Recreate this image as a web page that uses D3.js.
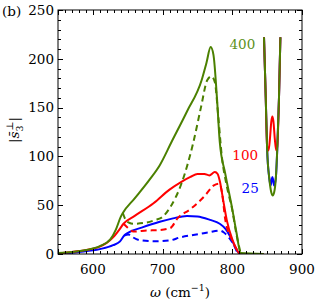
<!DOCTYPE html>
<html>
<head>
<meta charset="utf-8">
<script src="https://cdn.jsdelivr.net/npm/d3@7"></script>
</head>
<body style="margin:0">
<script>
    // Data (omega in cm^-1, |s3| values)
    let xTicks = [600, 700, 800, 900];
    let yTicks = [0, 50, 100, 150, 200, 250];

    let green400 = [[550, 1], [570, 2], [590, 4], [610, 8], [625, 15], [633, 25], [640, 38], [643, 42],
        [660, 57], [680, 75], [696, 91], [713, 115], [735, 146], [756, 178], [763, 196], [769, 212],
        [773, 204], [778, 160], [782, 115], [790, 82], [800, 46], [806, 22], [812, 1], [845, 0]];
    let green400d = [[643, 42], [647, 35], [652, 32], [658, 31], [675, 32], [690, 35], [700, 38],
        [711, 48], [727, 72], [744, 114], [755, 150], [764, 178], [770, 182], [775, 176], [780, 140],
        [785, 100], [792, 70], [800, 45], [806, 20], [812, 1]];
    let red100 = [[550, 0.6], [580, 3], [610, 7.5], [629, 17], [638, 25], [644, 31], [660, 39],
        [687, 52], [710, 66], [727, 74], [740, 79], [750, 82], [760, 82], [767, 80.5], [775, 84],
        [779, 82], [782, 75], [787, 55], [792, 35], [800, 15], [806, 5], [811, 0], [845, 0]];
    let red100d = [[644, 31], [650, 27], [658, 23], [677, 24], [696, 24.6], [711, 26.6], [722, 37],
        [740, 46], [761, 60], [773, 70], [781, 72], [785, 64], [790, 35], [800, 14], [806, 5], [811, 0]];
    let blue25 = [[550, 0], [580, 2], [610, 5], [629, 9], [639, 13], [645, 19], [651, 22], [670, 27],
        [696, 33], [715, 36.5], [735, 39], [750, 38.5], [768, 35], [782, 31], [790, 26], [797, 18],
        [804, 7.5], [811, 0], [845, 0]];
    let blue25d = [[645, 19], [651, 20], [656, 17.7], [668, 14], [690, 13], [711, 14], [725, 17],
        [744, 19.5], [765, 22], [782, 24], [788, 22], [795, 17], [800, 12], [808, 0]];

    // second band (between the poles)
    let greenRes = [[845.5, 222], [848, 160], [850, 107], [853, 78], [856, 63], [858, 60], [860, 63],
        [862.5, 78], [864.5, 107], [867, 160], [869, 222]];
    let redRes = [[845.5, 222], [848, 160], [850, 110], [852, 106], [854, 118], [856, 136], [857.5, 141],
        [859, 136], [861, 118], [863, 106], [864.5, 110], [867, 160], [869, 222]];
    let blueRes = [[845.5, 222], [848, 160], [850, 107], [853, 78], [855, 70], [856.5, 76], [857.5, 79],
        [858.5, 76], [860, 70], [862.5, 78], [864.5, 107], [867, 160], [869, 222]];

    let labels = [
        { text: "400", color: "#5c9121", x: 833, y: 210 },
        { text: "100", color: "#ff0000", x: 837, y: 96 },
        { text: "25", color: "#0000ff", x: 838, y: 62.5 }
    ];

    // Set up SVG
    let W = 321, H = 305;
    let margin = { top: 10, right: 19, bottom: 51, left: 58 };
    let width = W - margin.left - margin.right;
    let height = H - margin.top - margin.bottom;
    let fontName = "DejaVu Serif";
    let fs = 13.5;

    let svg = d3.select("body")
        .append("svg")
        .attr("width", W)
        .attr("height", H)
        .attr("font-family", fontName);

    let g = svg.append("g")
        .attr("transform", `translate(${margin.left}, ${margin.top})`);

    let x = d3.scaleLinear().domain([550, 900]).range([0, width]);
    let y = d3.scaleLinear().domain([0, 250]).range([height, 0]);

    g.append("clipPath").attr("id", "clip")
        .append("rect").attr("width", width).attr("height", height);

    let line = d3.line()
        .x(d => x(d[0]))
        .y(d => y(d[1]))
        .curve(d3.curveMonotoneX);

    let plot = g.append("g").attr("clip-path", "url(#clip)");

    function drawLine(data, color, dashed) {
        plot.append("path")
            .datum(data)
            .attr("fill", "none")
            .attr("stroke", color)
            .attr("stroke-width", 2)
            .attr("stroke-linejoin", "round")
            .attr("stroke-dasharray", dashed ? "6,4" : null)
            .attr("d", line);
    }

    let blue = "#0000ff", red = "#ff0000", green = "#4b8000";
    drawLine(blue25d, blue, true);
    drawLine(blue25, blue, false);
    drawLine(blueRes, blue, false);
    drawLine(red100d, red, true);
    drawLine(red100, red, false);
    drawLine(redRes, red, false);
    drawLine(green400d, green, true);
    drawLine(green400, green, false);
    drawLine(greenRes, green, false);

    // Axes with inward ticks on all sides
    let xMinor = d3.range(560, 900, 10).filter(v => v % 100 !== 0);
    let yMinor = d3.range(10, 250, 10).filter(v => v % 50 !== 0);

    let axes = g.append("g").attr("stroke", "#000").attr("stroke-width", 1);
    axes.append("rect")
        .attr("x", 0).attr("y", 0)
        .attr("width", width).attr("height", height)
        .attr("fill", "none");

    function xTickMarks(vals, len) {
        vals.forEach(v => {
            let px = Math.round(x(v)) + 0.5;
            axes.append("line").attr("x1", px).attr("x2", px).attr("y1", height).attr("y2", height - len);
            axes.append("line").attr("x1", px).attr("x2", px).attr("y1", 0).attr("y2", len);
        });
    }
    function yTickMarks(vals, len) {
        vals.forEach(v => {
            let py = Math.round(y(v)) + 0.5;
            axes.append("line").attr("y1", py).attr("y2", py).attr("x1", 0).attr("x2", len);
            axes.append("line").attr("y1", py).attr("y2", py).attr("x1", width).attr("x2", width - len);
        });
    }
    xTickMarks(xMinor, 3);
    xTickMarks(xTicks.concat([550]), 5);
    yTickMarks(yMinor, 3);
    yTickMarks(yTicks, 5);

    g.selectAll(".xl")
        .data(xTicks)
        .enter()
        .append("text")
        .attr("x", d => x(d))
        .attr("y", height + 20)
        .attr("text-anchor", "middle")
        .attr("font-family", fontName)
        .attr("font-size", fs)
        .text(d => d);

    g.selectAll(".yl")
        .data(yTicks)
        .enter()
        .append("text")
        .attr("x", -4)
        .attr("y", d => y(d))
        .attr("dy", "0.35em")
        .attr("text-anchor", "end")
        .attr("font-family", fontName)
        .attr("font-size", fs)
        .text(d => d);

    // Curve labels
    g.selectAll(".cl")
        .data(labels)
        .enter()
        .append("text")
        .attr("x", d => x(d.x))
        .attr("y", d => y(d.y))
        .attr("text-anchor", "end")
        .attr("font-family", fontName)
        .attr("font-size", fs)
        .attr("fill", d => d.color)
        .text(d => d.text);

    // Axis titles
    let xt = svg.append("text")
        .attr("x", 180).attr("y", 297)
        .attr("text-anchor", "middle")
        .attr("font-family", fontName)
        .attr("font-size", fs);
    xt.append("tspan").attr("font-style", "italic").text("ω");
    xt.append("tspan").text(" (cm");
    xt.append("tspan").attr("font-size", 9.5).attr("dy", -6).text("−1");
    xt.append("tspan").attr("dy", 6).text(")");

    let yt = svg.append("text")
        .attr("transform", "translate(19, 130) rotate(-90)")
        .attr("text-anchor", "middle")
        .attr("font-family", fontName)
        .attr("font-size", fs);
    yt.append("tspan").text("|");
    yt.append("tspan").attr("font-style", "italic").text("s̄");
    yt.append("tspan").attr("font-size", 9.5).attr("dy", 4).text("3");
    yt.append("tspan").attr("font-size", 9.5).attr("dy", -10).attr("dx", -5).text("⊥");
    yt.append("tspan").attr("dy", 6).text("|");

    svg.append("text")
        .attr("x", 2).attr("y", 16)
        .attr("font-family", fontName)
        .attr("font-size", fs)
        .text("(b)");
</script>
</body>
</html>
